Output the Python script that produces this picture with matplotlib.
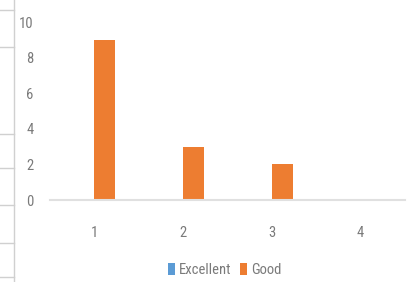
import matplotlib
matplotlib.use("Agg")
import matplotlib.pyplot as plt
from matplotlib.lines import Line2D
import numpy as np

categories = ["1", "2", "3", "4"]
excellent = [0, 0, 0, 0]
good = [9, 3, 2, 0]
yticks = [0, 2, 4, 6, 8, 10]

plt.rcParams['font.family'] = ['Liberation Sans Narrow', 'Roboto Condensed', 'Roboto', 'DejaVu Sans']
TXT = "#7A7A7A"

fig = plt.figure(figsize=(4.09, 2.82), dpi=100)
ax = fig.add_axes([50/409, 82/282, 355/409, 178/282])

x = np.arange(len(categories))
w = 0.237
ax.bar(x - w/2, excellent, w, color="#5B9BD5", label="Excellent")
ax.bar(x + w/2, good, w, color="#ED7D31", label="Good")

ax.set_xlim(-0.5, 3.5)
ax.set_ylim(0, 10)
ax.set_xticks(x)
ax.set_xticklabels(categories)
ax.set_yticks(yticks)
for s in ["top", "right", "left"]:
    ax.spines[s].set_visible(False)
ax.spines["bottom"].set_color("#E0E0E0")
ax.spines["bottom"].set_linewidth(1.5)
ax.tick_params(axis="both", length=0, colors=TXT, labelsize=10.5)
ax.tick_params(axis="y", pad=12)
ax.tick_params(axis="x", pad=19)

leg = fig.legend(loc="center", bbox_to_anchor=(225/409, 1 - 270/282), ncol=2,
                 frameon=False, fontsize=10.5, handlelength=0.45, handleheight=0.8,
                 handletextpad=0.3, columnspacing=0.6)
for t in leg.get_texts():
    t.set_color(TXT)

# spreadsheet cell border decoration at left
fig.add_artist(Line2D([14/409, 14/409], [0, 1], transform=fig.transFigure, color="#D0D0D0", lw=1))
for yy in [10, 47, 134, 168, 205, 243, 277]:
    fig.add_artist(Line2D([0, 14/409], [1 - yy/282, 1 - yy/282], transform=fig.transFigure, color="#D0D0D0", lw=1))

fig.savefig("out.png", dpi=100)
